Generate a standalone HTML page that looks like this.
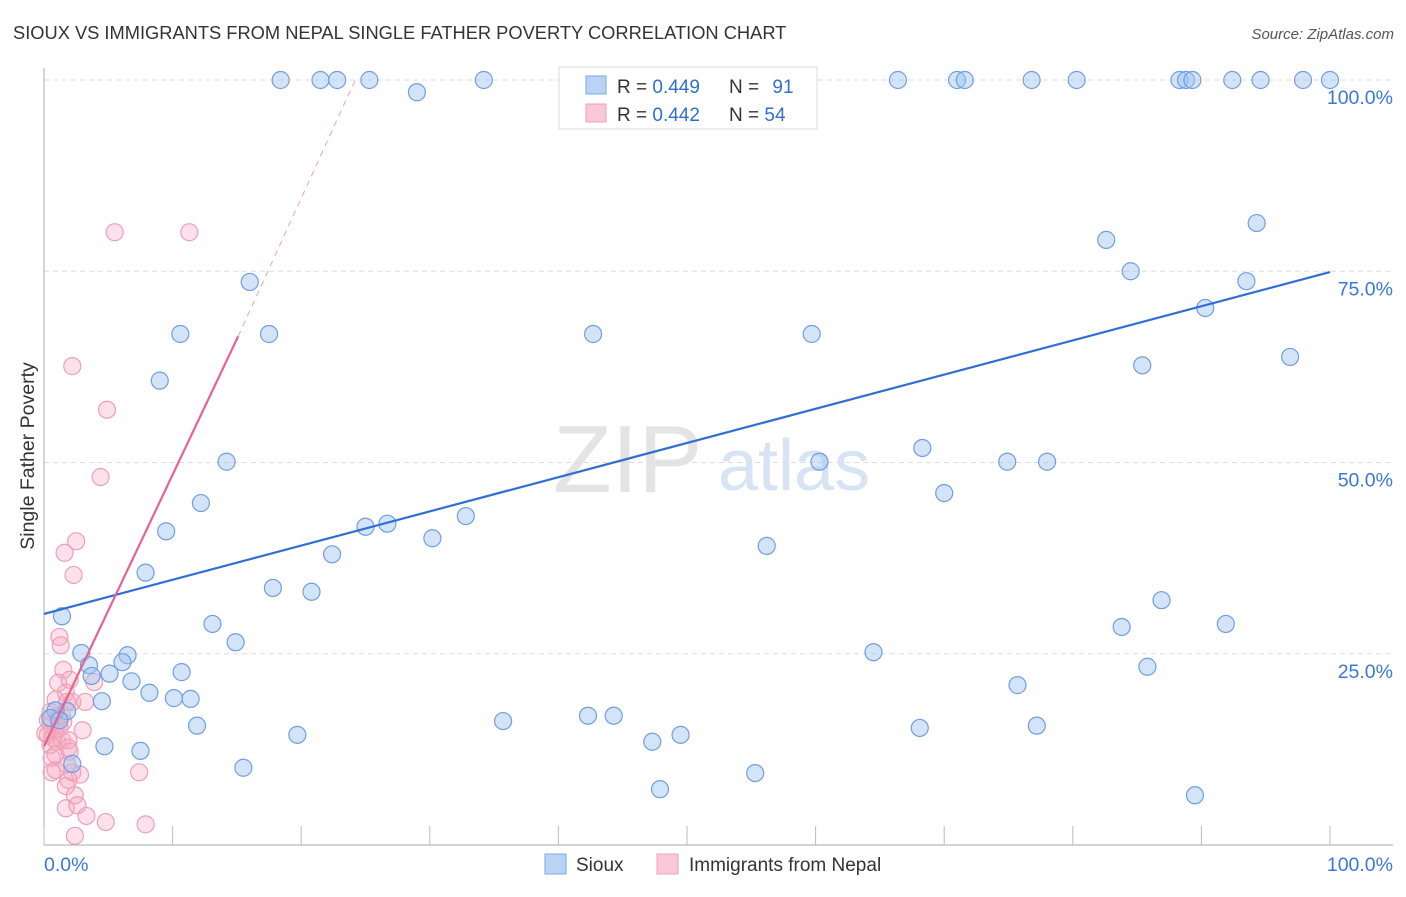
<!DOCTYPE html>
<html><head><meta charset="utf-8"><style>
body{margin:0;background:#fff;font-family:"Liberation Sans",sans-serif;}
svg text{font-family:"Liberation Sans",sans-serif;}
</style></head><body>
<svg id="chart" width="1406" height="892">
<text x="13" y="39" font-size="18.3" fill="#333">SIOUX VS IMMIGRANTS FROM NEPAL SINGLE FATHER POVERTY CORRELATION CHART</text>
<text x="1394" y="39" font-size="15" fill="#555" font-style="italic" text-anchor="end">Source: ZipAtlas.com</text>
<text transform="translate(34,456) rotate(-90)" font-size="19.5" fill="#333" text-anchor="middle">Single Father Poverty</text>
<g><text x="553" y="492" font-size="96" fill="#e4e4e4" font-family="Liberation Serif,serif">ZIP</text><text x="718" y="490" font-size="72" fill="#d6e4f5">atlas</text></g>
<g id="grid"></g><g id="axes"></g><g id="pinkpts"></g><g id="bluepts"></g><g id="lines"></g>
<g>
<rect x="559" y="67" width="258" height="62" fill="#fff" stroke="#ddd"/>
<rect x="586" y="76" width="20" height="18" fill="#b9d3f5" stroke="#7aa8e6"/>
<rect x="586" y="104" width="20" height="18" fill="#f9c9d7" stroke="#eea0b8"/>
<text x="617" y="93" font-size="19" fill="#333">R = <tspan fill="#2f6fcf">0.449</tspan></text>
<text x="729" y="93" font-size="19" fill="#333">N = <tspan fill="#2f6fcf" dx="8">91</tspan></text>
<text x="617" y="121" font-size="19" fill="#333">R = <tspan fill="#2f6fcf">0.442</tspan></text>
<text x="729" y="121" font-size="19" fill="#333">N = <tspan fill="#2f6fcf">54</tspan></text>
</g>
<g>
<rect x="545" y="854" width="21" height="20" fill="#b9d3f5" stroke="#7aa8e6"/>
<text x="576" y="871" font-size="19" fill="#333">Sioux</text>
<rect x="657" y="854" width="21" height="20" fill="#f9c9d7" stroke="#eea0b8"/>
<text x="689" y="871" font-size="19" fill="#333">Immigrants from Nepal</text>
</g>
</svg>
<script>
const yTicks=[25,50,75,100];
const yTickLabels=["25.0%","50.0%","75.0%","100.0%"];
const xTickVals=[0,10,20,30,40,50,60,70,80,90,100];
const blueX=[18.4,21.5,22.8,25.3,29.0,34.2,46.6,52.0,66.4,71.0,71.6,76.8,80.3,88.3,88.8,89.3,92.4,94.6,97.9,100,82.6,84.5,94.3,93.5,90.3,96.9,85.4,16.0,10.6,17.5,42.7,59.7,9.0,14.2,12.2,9.5,68.3,60.3,74.9,78.0,70.0,25.0,26.7,32.8,30.2,22.4,56.2,7.9,17.8,20.8,1.4,13.1,14.9,86.9,83.8,91.9,64.5,85.8,2.9,6.5,6.1,3.5,10.7,5.1,3.7,6.8,8.2,10.1,11.4,4.5,75.7,1.8,0.9,11.9,35.7,42.3,44.3,68.1,77.2,19.7,49.5,47.3,4.7,7.5,2.2,15.5,55.3,47.9,89.5,0.5,1.2];
const blueY=[100,100,100,100,98.4,100,100,100,100,100,100,100,100,100,100,100,100,100,100,100,79.1,75.0,81.3,73.7,70.2,63.8,62.7,73.6,66.8,66.8,66.8,66.8,60.7,50.1,44.7,41.0,51.9,50.1,50.1,50.1,46.0,41.6,42.0,43.0,40.1,38.0,39.1,35.6,33.6,33.1,29.9,28.9,26.5,32.0,28.5,28.9,25.2,23.3,25.1,24.8,23.9,23.5,22.6,22.4,22.1,21.4,19.9,19.2,19.1,18.8,20.9,17.5,17.6,15.6,16.2,16.9,16.9,15.3,15.6,14.4,14.4,13.5,12.9,12.3,10.6,10.1,9.4,7.3,6.5,16.6,16.3];
const pinkX=[5.5,11.3,2.2,4.9,4.4,2.5,1.6,2.3,1.2,1.3,1.5,1.1,2.0,3.9,1.7,0.9,1.8,2.2,0.5,1.1,1.5,0.5,0.9,1.2,0.3,0.7,1.0,1.4,1.9,3.0,3.2,1.9,2.0,0.6,0.9,1.8,2.2,2.8,0.6,1.9,1.7,2.4,1.7,2.6,3.3,4.8,7.9,2.4,7.4,0.3,0.5,0.9,1.4,0.1];
const pinkY=[80.1,80.1,62.6,56.9,48.1,39.7,38.2,35.3,27.2,26.1,22.9,21.2,21.6,21.3,19.9,19.0,18.7,18.7,17.4,16.6,16.1,15.7,15.0,15.3,14.4,14.0,13.5,13.7,13.7,15.0,18.7,12.7,12.2,11.4,9.8,10.5,9.5,9.2,9.5,8.5,7.7,6.5,4.8,5.2,3.8,3.0,2.7,1.2,9.5,16.3,13.1,11.8,17.0,14.6];
const blueLine=[[0,30.2],[100,74.9]];
const pinkLine=[[0,12.9],[15.1,66.5]];
const pinkDash=[[15.1,66.5],[24.2,100]];
const NS="http://www.w3.org/2000/svg";
const sx=v=>44+v*12.86, sy=v=>845-v*7.65;
function mk(t,a,p){const e=document.createElementNS(NS,t);for(const k in a)e.setAttribute(k,a[k]);p.appendChild(e);return e;}
const grid=document.getElementById('grid'),axes=document.getElementById('axes');
yTicks.forEach((t,i)=>{
 const l=mk('line',{x1:44,x2:1393,y1:sy(t),y2:sy(t),stroke:'#ddd','stroke-dasharray':'5,4'},grid);
 
 
 const tx=mk('text',{x:1393,y:sy(t)+24,'font-size':19.5,fill:'#3a78d4','text-anchor':'end'},grid);tx.textContent=yTickLabels[i];
 
 
});
mk('line',{x1:44,x2:44,y1:68,y2:845,stroke:'#aaa'},axes);
mk('line',{x1:44,x2:1393,y1:845,y2:845,stroke:'#aaa'},axes);
xTickVals.forEach(t=>{const l=mk('line',{x1:sx(t),x2:sx(t),y1:826,y2:845,stroke:'#bbb'},axes);
 
 });
let t0=mk('text',{x:44,y:871,'font-size':19.5,fill:'#3a78d4'},axes);t0.textContent='0.0%';


let t1=mk('text',{x:1393,y:871,'font-size':19.5,fill:'#3a78d4','text-anchor':'end'},axes);t1.textContent='100.0%';


const pg=document.getElementById('pinkpts');
pinkX.forEach((x,i)=>{const c=mk('circle',{cx:sx(x),cy:sy(pinkY[i]),r:8.5,fill:'rgba(245,170,195,0.35)',stroke:'#eea0b8','stroke-width':1.2},pg);
 
 });
const bg=document.getElementById('bluepts');
blueX.forEach((x,i)=>{const c=mk('circle',{cx:sx(x),cy:sy(blueY[i]),r:8.5,fill:'rgba(160,196,240,0.45)',stroke:'#6f9fe0','stroke-width':1.2},bg);
 
 });
const lg=document.getElementById('lines');
const bl=mk('line',{x1:sx(blueLine[0][0]),y1:sy(blueLine[0][1]),x2:sx(blueLine[1][0]),y2:sy(blueLine[1][1]),stroke:'#2f6fd6','stroke-width':2.2},lg);


const pl=mk('line',{x1:sx(pinkLine[0][0]),y1:sy(pinkLine[0][1]),x2:sx(pinkLine[1][0]),y2:sy(pinkLine[1][1]),stroke:'#e8628e','stroke-width':2.2},lg);


const pd=mk('line',{x1:sx(pinkDash[0][0]),y1:sy(pinkDash[0][1]),x2:sx(pinkDash[1][0]),y2:sy(pinkDash[1][1]),stroke:'#eea0b8','stroke-width':1,'stroke-dasharray':'6,5'},lg);


</script>
</body></html>
